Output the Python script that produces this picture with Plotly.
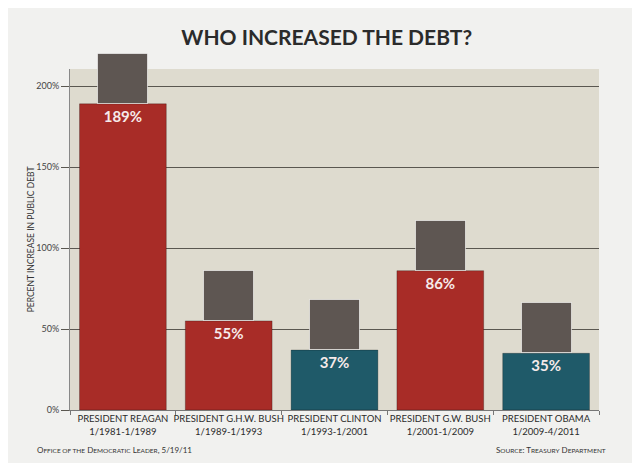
import plotly.graph_objects as go

# data
presidents = ["PRESIDENT REAGAN", "PRESIDENT G.H.W. BUSH", "PRESIDENT CLINTON",
              "PRESIDENT G.W. BUSH", "PRESIDENT OBAMA"]
terms = ["1/1981-1/1989", "1/1989-1/1993", "1/1993-1/2001", "1/2001-1/2009", "1/2009-4/2011"]
debt_increase = [189, 55, 37, 86, 35]
party = ["R", "R", "D", "R", "D"]
tick_vals = [0, 50, 100, 150, 200]
tick_text = ["0%", "50%", "100%", "150%", "200%"]

RED = "#a82c27"
TEAL = "#1f5a69"

categories = [f"{p}<br>{t}" for p, t in zip(presidents, terms)]
colors = [RED if p == "R" else TEAL for p in party]

fig = go.Figure()

fig.add_trace(go.Bar(
    x=categories,
    y=debt_increase,
    marker=dict(color=colors, line=dict(color="rgba(0,0,0,0.25)", width=1)),
    width=0.82,
    text=[f"{v}%" for v in debt_increase],
    textposition="inside",
    insidetextanchor="end",
    textfont=dict(family="Lato", size=15, color="#f6eaea", weight="bold"),
    hoverinfo="skip",
))

# portrait placeholders sitting on top of each bar (annotations are not clipped)
photos = [
    dict(x=c, y=v, xref="x", yref="y", yanchor="bottom", text=" ", showarrow=False,
         width=49, height=49, borderpad=0, borderwidth=1,
         bgcolor="#5e5652", bordercolor="rgba(255,255,255,0.6)")
    for c, v in zip(categories, debt_increase)
]

footer = [
    dict(text="O<span style='font-size:6.5px'>FFICE OF THE</span> D<span style='font-size:6.5px'>EMOCRATIC</span> L<span style='font-size:6.5px'>EADER</span>, 5/19/11",
         xref="paper", yref="paper", x=-0.066, y=-0.117, xanchor="left", yanchor="middle",
         showarrow=False, font=dict(family="Lato", size=8, color="#333")),
    dict(text="S<span style='font-size:6.5px'>OURCE</span>: T<span style='font-size:6.5px'>REASURY</span> D<span style='font-size:6.5px'>EPARTMENT</span>",
         xref="paper", yref="paper", x=1.017, y=-0.117, xanchor="right", yanchor="middle",
         showarrow=False, font=dict(family="Lato", size=8, color="#333")),
    # y axis title
    dict(text="PERCENT INCREASE IN PUBLIC DEBT", textangle=-90,
         xref="paper", yref="paper", x=-0.074, y=0.5, xanchor="center", yanchor="middle",
         showarrow=False, font=dict(family="Lato", size=8.5, color="#333")),
]

# the page body adds an 8px offset, so the margins compensate for it
fig.update_layout(
    width=640, height=463,
    showlegend=False,
    paper_bgcolor="#f1f1ef",
    plot_bgcolor="#dedbcf",
    margin=dict(l=62, r=49, t=61, b=61),
    font=dict(family="Lato", color="#333333"),
    title=dict(text="<b>WHO INCREASED THE DEBT?</b>", x=0.498, xanchor="center",
               y=0.937, yanchor="middle", font=dict(family="Lato", size=21, color="#2b2b2b")),
    xaxis=dict(
        showgrid=False, ticks="outside", ticklen=4, tickcolor="#777",
        tickson="boundaries", showline=True, linecolor="#777",
        tickangle=0, automargin=False,
        tickfont=dict(family="Lato", size=9.5, color="#2b2b2b"),
    ),
    yaxis=dict(
        range=[0, 210.5], tickvals=tick_vals, ticktext=tick_text,
        showgrid=True, gridcolor="#5a5750", gridwidth=1,
        ticks="outside", ticklen=8, tickcolor="#5a5750",
        showline=True, linecolor="#888", zeroline=False, automargin=False,
        tickfont=dict(family="Lato", size=9, color="#444"),
    ),
    annotations=photos + footer,
)

fig.write_html("out.html")
